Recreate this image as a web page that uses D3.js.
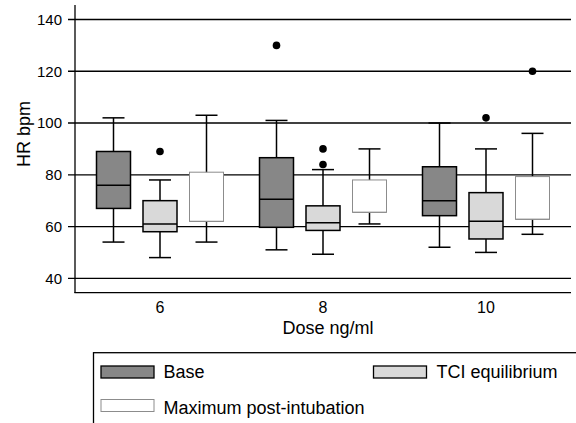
<!DOCTYPE html>
<html>
<head>
<meta charset="utf-8">
<script src="https://cdn.jsdelivr.net/npm/d3@7"></script>
<style>
  body { margin: 0; background: #fff; }
  text { font-family: "Liberation Sans", Arial, sans-serif; fill: #000; }
</style>
</head>
<body>
<script>
//HR box plots by dose - three series per dose group

//categories (dose ng/ml)
var doses = ["6", "8", "10"];
var series = ["Base", "TCI equilibrium", "Maximum post-intubation"];
var yTicks = [40, 60, 80, 100, 120, 140];

//box stats per dose: [whisker low, q1, median, q3, whisker high]
var baseStats = [[54, 67, 76, 89, 102], [51, 59.7, 70.5, 86.6, 101], [52, 64.2, 70, 83.1, 100]];
var tciStats = [[48, 58, 61, 70, 78], [49.3, 58.5, 61.5, 68, 82], [50, 55.2, 62, 73.1, 90]];
var maxStats = [[54, 62, 62, 81, 103], [61, 65.5, 65.5, 78, 90], [57, 62.8, 62.8, 79.3, 96]];

//outliers per dose
var baseOut = [[], [130], []];
var tciOut = [[89], [84, 90], [102]];
var maxOut = [[], [], [120]];

var fills = ["#878787", "#d9d9d9", "#ffffff"];
var strokes = ["#000", "#000", "#8c8c8c"];

window.onload = function(){

    var w = 576, h = 423;

    var svg = d3.select("body")
        .append("svg")
        .attr("width", w)
        .attr("height", h);

    //scales
    var y = d3.scaleLinear()
        .domain([40, 140])
        .range([278.3, 19.5]);

    var x = d3.scaleBand()
        .domain(doses)
        .range([78.5, 567.5]);

    var sub = d3.scaleBand()
        .domain(series)
        .range([-69.75, 69.75]);

    var boxW = 34, capW = 22;

    //gridlines
    svg.append("g")
        .selectAll("line")
        .data(yTicks)
        .enter()
        .append("line")
        .attr("x1", 68)
        .attr("x2", 571)
        .attr("y1", function(d){ return y(d); })
        .attr("y2", function(d){ return y(d); })
        .style("stroke", "#000")
        .style("stroke-width", 1.3);

    //y tick labels
    svg.append("g")
        .selectAll("text")
        .data(yTicks)
        .enter()
        .append("text")
        .attr("x", 62)
        .attr("y", function(d){ return y(d); })
        .attr("dy", "0.36em")
        .attr("text-anchor", "end")
        .style("font-size", "15px")
        .text(function(d){ return d; });

    //axis frame
    svg.append("line")
        .attr("x1", 75).attr("x2", 75)
        .attr("y1", 5).attr("y2", 293)
        .style("stroke", "#000").style("stroke-width", 1.3);
    svg.append("line")
        .attr("x1", 74.4).attr("x2", 571)
        .attr("y1", 292.7).attr("y2", 292.7)
        .style("stroke", "#000").style("stroke-width", 1.3);

    //x tick labels
    svg.append("g")
        .selectAll("text")
        .data(doses)
        .enter()
        .append("text")
        .attr("x", function(d){ return x(d) + x.bandwidth() / 2; })
        .attr("y", 312.5)
        .attr("text-anchor", "middle")
        .style("font-size", "16px")
        .text(function(d){ return d; });

    //axis titles
    svg.append("text")
        .attr("x", 328)
        .attr("y", 333.5)
        .attr("text-anchor", "middle")
        .style("font-size", "18px")
        .text("Dose ng/ml");

    svg.append("text")
        .attr("transform", "translate(29.5,134) rotate(-90)")
        .attr("text-anchor", "middle")
        .style("font-size", "18px")
        .text("HR bpm");

    //boxes
    var allStats = [baseStats, tciStats, maxStats];
    var allOut = [baseOut, tciOut, maxOut];

    series.forEach(function(s, si){
        var rows = doses.map(function(d, di){
            return { dose: d, stats: allStats[si][di], out: allOut[si][di] };
        });
        var cx = function(r){ return x(r.dose) + x.bandwidth() / 2 + sub(s) + sub.bandwidth() / 2; };

        var g = svg.append("g").attr("class", "series" + si);

        //whiskers
        g.selectAll(".whisk")
            .data(rows)
            .enter()
            .append("line")
            .attr("x1", cx).attr("x2", cx)
            .attr("y1", function(r){ return y(r.stats[0]); })
            .attr("y2", function(r){ return y(r.stats[4]); })
            .style("stroke", "#000").style("stroke-width", 1.5);

        //caps
        [0, 4].forEach(function(k){
            g.selectAll(".cap" + k)
                .data(rows)
                .enter()
                .append("line")
                .attr("x1", function(r){ return cx(r) - capW / 2; })
                .attr("x2", function(r){ return cx(r) + capW / 2; })
                .attr("y1", function(r){ return y(r.stats[k]); })
                .attr("y2", function(r){ return y(r.stats[k]); })
                .style("stroke", "#000").style("stroke-width", 1.5);
        });

        //box
        g.selectAll(".box")
            .data(rows)
            .enter()
            .append("rect")
            .attr("x", function(r){ return cx(r) - boxW / 2; })
            .attr("y", function(r){ return y(r.stats[3]); })
            .attr("width", boxW)
            .attr("height", function(r){ return y(r.stats[1]) - y(r.stats[3]); })
            .style("fill", fills[si])
            .style("stroke", strokes[si])
            .style("stroke-width", si == 2 ? 1 : 1.5);

        //median
        g.selectAll(".med")
            .data(rows)
            .enter()
            .append("line")
            .attr("x1", function(r){ return cx(r) - boxW / 2; })
            .attr("x2", function(r){ return cx(r) + boxW / 2; })
            .attr("y1", function(r){ return y(r.stats[2]); })
            .attr("y2", function(r){ return y(r.stats[2]); })
            .style("stroke", strokes[si])
            .style("stroke-width", si == 2 ? 1 : 1.5);

        //outliers
        rows.forEach(function(r){
            g.selectAll(null)
                .data(r.out)
                .enter()
                .append("circle")
                .attr("cx", cx(r))
                .attr("cy", function(v){ return y(v); })
                .attr("r", 3.8)
                .style("fill", "#000");
        });
    });

    //legend
    var legend = svg.append("g");
    legend.append("rect")
        .attr("x", 93.5).attr("y", 352.7)
        .attr("width", 520).attr("height", 120)
        .style("fill", "none")
        .style("stroke", "#000").style("stroke-width", 1.3);

    var legPos = [[101, 366, 163.5, 378], [373.5, 366, 436.5, 378], [101, 399.5, 163.5, 413.5]];
    series.forEach(function(s, si){
        var p = legPos[si];
        legend.append("rect")
            .attr("x", p[0]).attr("y", p[1])
            .attr("width", 53).attr("height", 12)
            .style("fill", fills[si])
            .style("stroke", si == 2 ? "#8c8c8c" : "#000")
            .style("stroke-width", si == 2 ? 1 : 1.3);
        legend.append("text")
            .attr("x", p[2]).attr("y", p[3])
            .style("font-size", "18px")
            .text(s);
    });
};
</script>
</body>
</html>
